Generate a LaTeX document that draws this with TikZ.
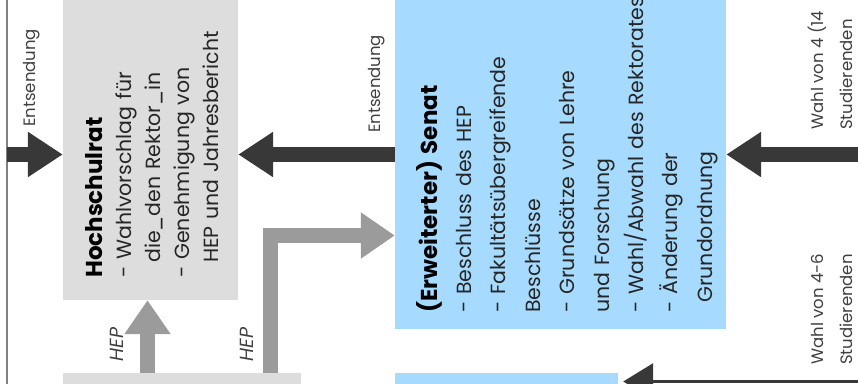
\documentclass[tikz,border=0pt]{standalone}
\usepackage{fontspec}
\setmainfont{Poppins}
\usetikzlibrary{arrows.meta,positioning,calc}

\definecolor{hsrgray}{RGB}{221,221,221}
\definecolor{senatblue}{RGB}{166,218,255}
\definecolor{pfeildark}{RGB}{56,56,56}
\definecolor{pfeilgray}{RGB}{155,155,155}

\begin{document}
\begin{tikzpicture}[x=1pt, y=-1pt,
    organ/.style={rectangle, inner sep=0pt, draw=none},
    grau/.style={organ, fill=hsrgray},
    blau/.style={organ, fill=senatblue},
    organtext/.style={rotate=90, inner sep=0pt, anchor=base west, align=left, text width=340pt, text=black!85, font=\fontsize{20.5}{29}\selectfont},
    lbl/.style={rotate=90, inner sep=0pt, anchor=base west, align=left, text=black!75, font=\fontsize{16.5}{29}\selectfont},
    heplbl/.style={lbl, font=\fontsize{19}{19}\selectfont\itshape},
    dick/.style={line width=15pt, pfeildark, -{Triangle[length=35pt,width=43pt]}},
    grauarrow/.style={line width=15pt, pfeilgray, line join=miter, -{Triangle[length=34pt,width=44pt]}},
    duenn/.style={line width=3pt, pfeildark, -{Triangle[length=30pt,width=36pt]}}]
    \useasboundingbox (0,0) rectangle (858,383);
    % boxes
    \node[grau, minimum width=175pt, minimum height=340pt] (hsr) at (150.5,130) {};
    \node[blau, minimum width=331pt, minimum height=369pt] (senat) at (560.5,144.5) {};
    \node[grau, minimum width=238pt, minimum height=50pt] (gbot) at (182,398) {};
    \node[blau, minimum width=223pt, minimum height=50pt] (bbot) at (506.5,398) {};
    % left line
    \draw[line width=2pt, black!50] (7,-10) -- (7,400);
    % arrows
    \coordinate (linie) at (7,154.5);
    \coordinate (rechts) at (870,154.5);
    \coordinate (hepx) at (147.5,0);
    \coordinate (knick) at (270,235.5);
    \coordinate (unten) at (870,381.5);
    \draw[dick] (linie) -- (linie -| hsr.west);
    \draw[dick] (senat.west |- linie) -- (hsr.east |- linie);
    \draw[dick] (rechts) -- (rechts -| senat.east);
    \draw[grauarrow] (hepx |- gbot.north) -- (hepx |- hsr.south);
    \draw[grauarrow] (knick |- gbot.north) |- (knick -| senat.west);
    \draw[duenn] (unten) -- ([xshift=5pt]unten -| bbot.east);
    % texts
    \node[organtext] (hsrtext) at (102,278) {{\fontsize{23}{29}\selectfont\bfseries\color{black} Hochschulrat}\\- Wahlvorschlag für\\\hspace*{15pt}die\_den Rektor\_in\\- Genehmigung von\\\hspace*{15pt}HEP und Jahresbericht};
    \node[organtext, font=\fontsize{20.5}{34.4}\selectfont] (senattext) at (437,313) {{\fontsize{23}{34.4}\selectfont\bfseries\color{black} (Erweiterter) Senat}\\- Beschluss des HEP\\- Fakultätsübergreifende\\Beschlüsse\\- Grundsätze von Lehre\\und Forschung\\- Wahl/Abwahl des Rektorates\\- Änderung der\\\hspace*{10pt}Grundordnung};
    % labels
    \node[lbl] (entl) at (35,127) {Entsendung};
    \node[lbl] (entm) at (380,133) {Entsendung};
    \node[heplbl] (hep1) at (123,362) {HEP};
    \node[heplbl] (hep2) at (253,362) {HEP};
    \node[lbl] (wahlsenat) at (852,130) {Wahl von 4 (14\\Studierenden};
    \node[lbl] (wahlunten) at (852,365) {Wahl von 4-6\\Studierenden};
\end{tikzpicture}
\end{document}
